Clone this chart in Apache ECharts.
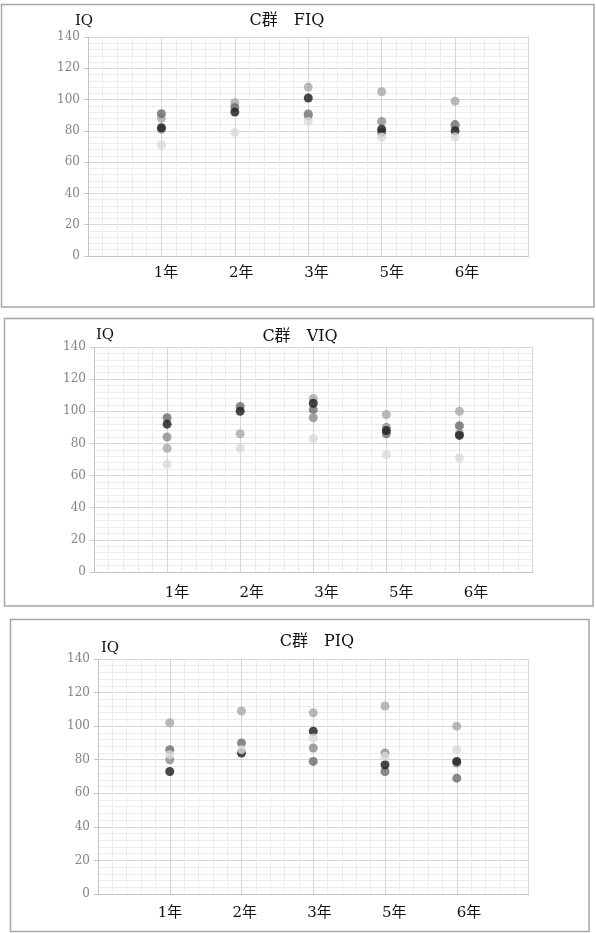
<!DOCTYPE html>
<html>
<head>
<meta charset="utf-8">
<script src="https://cdn.jsdelivr.net/npm/echarts@6.0.0/dist/echarts.min.js"></script>
<style>
  html, body { margin: 0; padding: 0; background: #fff; }
  #main { width: 596px; height: 933px; }
</style>
</head>
<body>
<div id="main"></div>
<script>
// 横軸の学年
var years = ['1年', '2年', '3年', '5年', '6年'];
var titles = ['C群　FIQ', 'C群　VIQ', 'C群　PIQ'];

// FIQ (5人, null = データなし)
var fiq1 = [88, 98, 108, 105, 99];
var fiq2 = [91, 95, 90, 79, 84];
var fiq3 = [81, null, 91, 86, 83];
var fiq4 = [82, 92, 101, 81, 80];
var fiq5 = [71, 79, 86, 76, 76];

// VIQ
var viq1 = [77, 86, 108, 98, 100];
var viq2 = [96, 103, 101, 86, 91];
var viq3 = [84, null, 96, 90, 86];
var viq4 = [92, 100, 105, 88, 85];
var viq5 = [67, 77, 83, 73, 71];

// PIQ
var piq1 = [102, 109, 108, 112, 100];
var piq2 = [86, 90, 79, 73, 69];
var piq3 = [80, null, 87, 84, 78];
var piq4 = [73, 84, 97, 77, 79];
var piq5 = [83, 86, 93, 82, 86];

var panelData = [
    [fiq1, fiq2, fiq3, fiq4, fiq5],
    [viq1, viq2, viq3, viq4, viq5],
    [piq1, piq2, piq3, piq4, piq5]
];
var dotColors = ['#a8a8a8', '#6b6b6b', '#8c8c8c', '#1a1a1a', '#dadada'];

// 位置 (px)
var plotBox = [
    { left: 88, top: 37, width: 440.5, height: 219 },
    { left: 94, top: 347, width: 438.5, height: 225 },
    { left: 98, top: 659, width: 430.5, height: 235 }
];
var labelBox = [
    { left: 128.4, top: 257, width: 376.2, height: 1 },
    { left: 139.6, top: 577, width: 373.8, height: 1 },
    { left: 132.6, top: 897, width: 373.8, height: 1 }
];
var frames = [
    { x: 1.5, y: 4.5, width: 592.5, height: 302.5 },
    { x: 4.5, y: 318.5, width: 588.5, height: 287.5 },
    { x: 10.5, y: 619.5, width: 578.5, height: 312 }
];
var titlePos = [[287, 21], [300, 337], [317, 642]];
var iqPos = [[84, 21], [105, 335], [110, 648]];

var serif = '"DejaVu Serif", "Noto Sans CJK JP", serif';

var myChart = echarts.init(document.getElementById('main'), null, { renderer: 'canvas' });

var grid = [], xAxis = [], yAxis = [], series = [], graphic = [];

for (var p = 0; p < 3; p++) {
    grid.push(plotBox[p]);
    xAxis.push({
        gridIndex: p,
        type: 'value',
        min: 0,
        max: 6,
        interval: 1,
        axisLabel: { show: false },
        axisTick: { show: false },
        axisLine: { show: true, lineStyle: { color: '#c4c4c4' } },
        splitLine: { show: true, lineStyle: { color: '#d6d6d6' } },
        minorTick: { show: false, splitNumber: 5 },
        minorSplitLine: { show: true, lineStyle: { color: '#ececec' } }
    });
    yAxis.push({
        gridIndex: p,
        type: 'value',
        min: 0,
        max: 140,
        interval: 20,
        axisLabel: { color: '#858585', fontFamily: serif, fontSize: 12, margin: 8 },
        axisTick: { show: true, length: 4, lineStyle: { color: '#c4c4c4' } },
        axisLine: { show: true, lineStyle: { color: '#c4c4c4' } },
        splitLine: { show: true, lineStyle: { color: '#d8d8d8' } },
        minorTick: { show: false, splitNumber: 5 },
        minorSplitLine: { show: true, lineStyle: { color: '#ececec' } }
    });
    for (var s = 0; s < 5; s++) {
        var vals = panelData[p][s];
        var pts = [];
        for (var i = 0; i < vals.length; i++) {
            if (vals[i] != null) pts.push([i + 1, vals[i]]);
        }
        series.push({
            type: 'scatter',
            xAxisIndex: p,
            yAxisIndex: p,
            symbol: 'circle',
            symbolSize: 9,
            itemStyle: { color: dotColors[s] },
            data: pts
        });
    }
    graphic.push({
        type: 'rect',
        shape: frames[p],
        style: { fill: null, stroke: '#a6a6a6', lineWidth: 1.5 },
        silent: true
    });
    graphic.push({
        type: 'text',
        x: titlePos[p][0],
        y: titlePos[p][1],
        style: { text: titles[p], fill: '#111', font: '16px ' + serif, align: 'center', verticalAlign: 'middle' }
    });
    graphic.push({
        type: 'text',
        x: iqPos[p][0],
        y: iqPos[p][1],
        style: { text: 'IQ', fill: '#111', font: '15px ' + serif, align: 'center', verticalAlign: 'middle' }
    });
}

// 学年ラベル用の軸
for (var q = 0; q < 3; q++) {
    grid.push(labelBox[q]);
    xAxis.push({
        gridIndex: 3 + q,
        type: 'category',
        data: years,
        boundaryGap: true,
        axisLine: { show: false },
        axisTick: { show: false },
        splitLine: { show: false },
        axisLabel: { color: '#111', fontFamily: serif, fontSize: 15, margin: 8 }
    });
    yAxis.push({ gridIndex: 3 + q, type: 'value', show: false });
}

option = {
    animation: false,
    backgroundColor: '#fff',
    grid: grid,
    xAxis: xAxis,
    yAxis: yAxis,
    series: series,
    graphic: graphic
};

myChart.setOption(option);
</script>
</body>
</html>
